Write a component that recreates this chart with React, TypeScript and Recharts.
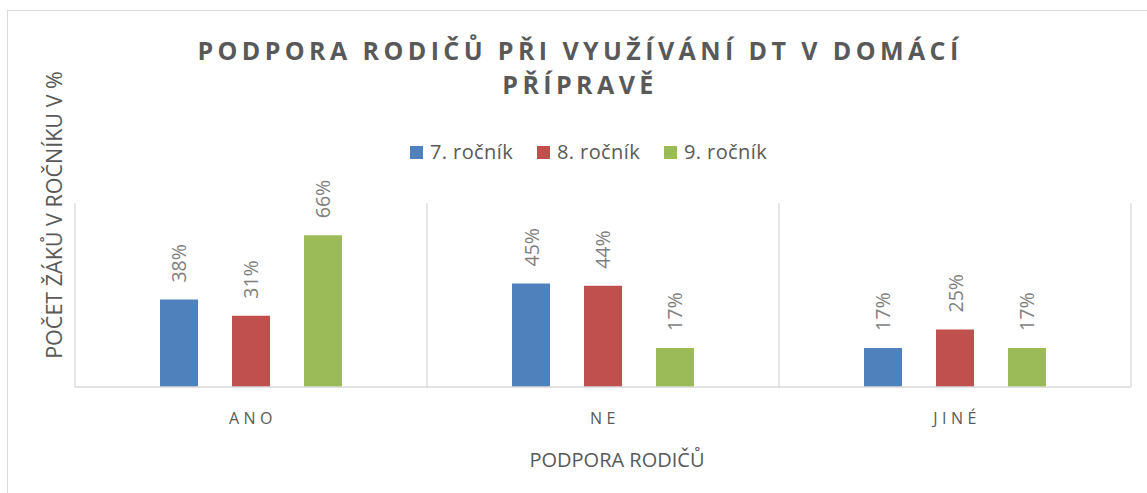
import React from 'react';
import { BarChart, Bar, XAxis, YAxis, CartesianGrid, Legend, LabelList } from 'recharts';

const categories = ['ANO', 'NE', 'JINÉ'];
const grade7 = [38, 45, 17];
const grade8 = [31, 44, 25];
const grade9 = [66, 17, 17];
const seriesNames = ['7. ročník', '8. ročník', '9. ročník'];
const seriesColors = ['#4f81bd', '#c0504d', '#9bbb59'];
const titleLines = ['PODPORA RODIČŮ PŘI VYUŽÍVÁNÍ DT V DOMÁCÍ', 'PŘÍPRAVĚ'];
const xTitle = 'PODPORA RODIČŮ';
const yTitle = 'POČET ŽÁKŮ V ROČNÍKU V %';

const data = categories.map((c, i) => ({ cat: c, g7: grade7[i], g8: grade8[i], g9: grade9[i] }));
const keys = ['g7', 'g8', 'g9'];

const FONT = '"Open Sans", sans-serif';

const BarLabel = (props: any) => {
  const { x, y, width, value } = props;
  const cx = Number(x) + Number(width) / 2;
  const ty = Number(y) - 17;
  return (
    <text
      x={cx}
      y={ty}
      transform={`rotate(-90, ${cx}, ${ty})`}
      textAnchor="start"
      dominantBaseline="central"
      fontFamily={FONT}
      fontSize={19.5}
      fill="#7f7f7f"
    >
      {`${value}%`}
    </text>
  );
};

const CatTick = (props: any) => {
  const { x, y, payload } = props;
  return (
    <text
      x={x + 2}
      y={y}
      textAnchor="middle"
      fontFamily={FONT}
      fontSize={16}
      fill="#595959"
      letterSpacing={4.5}
      dy={29}
    >
      {payload.value}
    </text>
  );
};

const renderLegend = (props: any) => {
  const { payload } = props;
  return (
    <div style={{ display: 'flex', fontFamily: FONT }}>
      {(payload || []).map((p: any) => (
        <div key={p.value} style={{ width: 127, display: 'flex', alignItems: 'center' }}>
          <span style={{ width: 13, height: 13, background: p.color, display: 'inline-block', marginRight: 7 }} />
          <span style={{ fontSize: 20, letterSpacing: 0.4, color: '#595959', lineHeight: '26px' }}>{p.value}</span>
        </div>
      ))}
    </div>
  );
};

const gridX = (args: any) => {
  const { offset } = args;
  return [0, 1, 2, 3].map((i) => offset.left + (offset.width * i) / categories.length);
};

export default function App() {
  return (
    <div style={{ position: 'absolute', left: 0, top: 0, width: 1147, height: 493, overflow: 'hidden', background: '#fff' }}>
      <div style={{ position: 'absolute', left: 7, top: 10, width: 1180, height: 520, border: '1px solid #d9d9d9', boxSizing: 'border-box' }} />
      <div style={{ position: 'absolute', left: 0, top: 0 }}>
        <BarChart
          width={1147}
          height={493}
          data={data}
          margin={{ top: 203, right: 16, bottom: 16, left: 75 }}
          barGap={34}
          barSize={38}
        >
          <CartesianGrid horizontal={false} verticalCoordinatesGenerator={gridX} stroke="#d9d9d9" strokeWidth={1.3} />
          <XAxis
            dataKey="cat"
            height={90}
            tickLine={false}
            axisLine={{ stroke: '#d9d9d9', strokeWidth: 1.5 }}
            tick={<CatTick />}
            interval={0}
            label={{ value: xTitle, position: 'insideBottom', offset: 10, dx: 14, fill: '#595959', fontSize: 20, fontFamily: FONT }}
          />
          <YAxis hide domain={[0, 80]} />
          <Legend
            layout="horizontal"
            verticalAlign="middle"
            align="center"
            content={renderLegend}
            wrapperStyle={{ position: 'absolute', left: 410, top: 139, width: 420 }}
          />
          {keys.map((k, i) => (
            <Bar key={k} dataKey={k} name={seriesNames[i]} fill={seriesColors[i]} isAnimationActive={false}>
              <LabelList dataKey={k} content={<BarLabel />} />
            </Bar>
          ))}
        </BarChart>
      </div>
      <div
        style={{
          position: 'absolute',
          left: 80,
          width: 1000,
          top: 33,
          textAlign: 'center',
          fontFamily: FONT,
          fontWeight: 700,
          fontSize: 25,
          letterSpacing: 4.4,
          lineHeight: '34px',
          color: '#595959',
        }}
      >
        {titleLines.map((l) => (
          <div key={l}>{l}</div>
        ))}
      </div>
      <div
        style={{
          position: 'absolute',
          left: 54,
          top: 215,
          transform: 'translate(-50%, -50%) rotate(-90deg)',
          whiteSpace: 'nowrap',
          fontFamily: FONT,
          fontSize: 21.5,
          color: '#595959',
          lineHeight: '24px',
        }}
      >
        {yTitle}
      </div>
    </div>
  );
}
